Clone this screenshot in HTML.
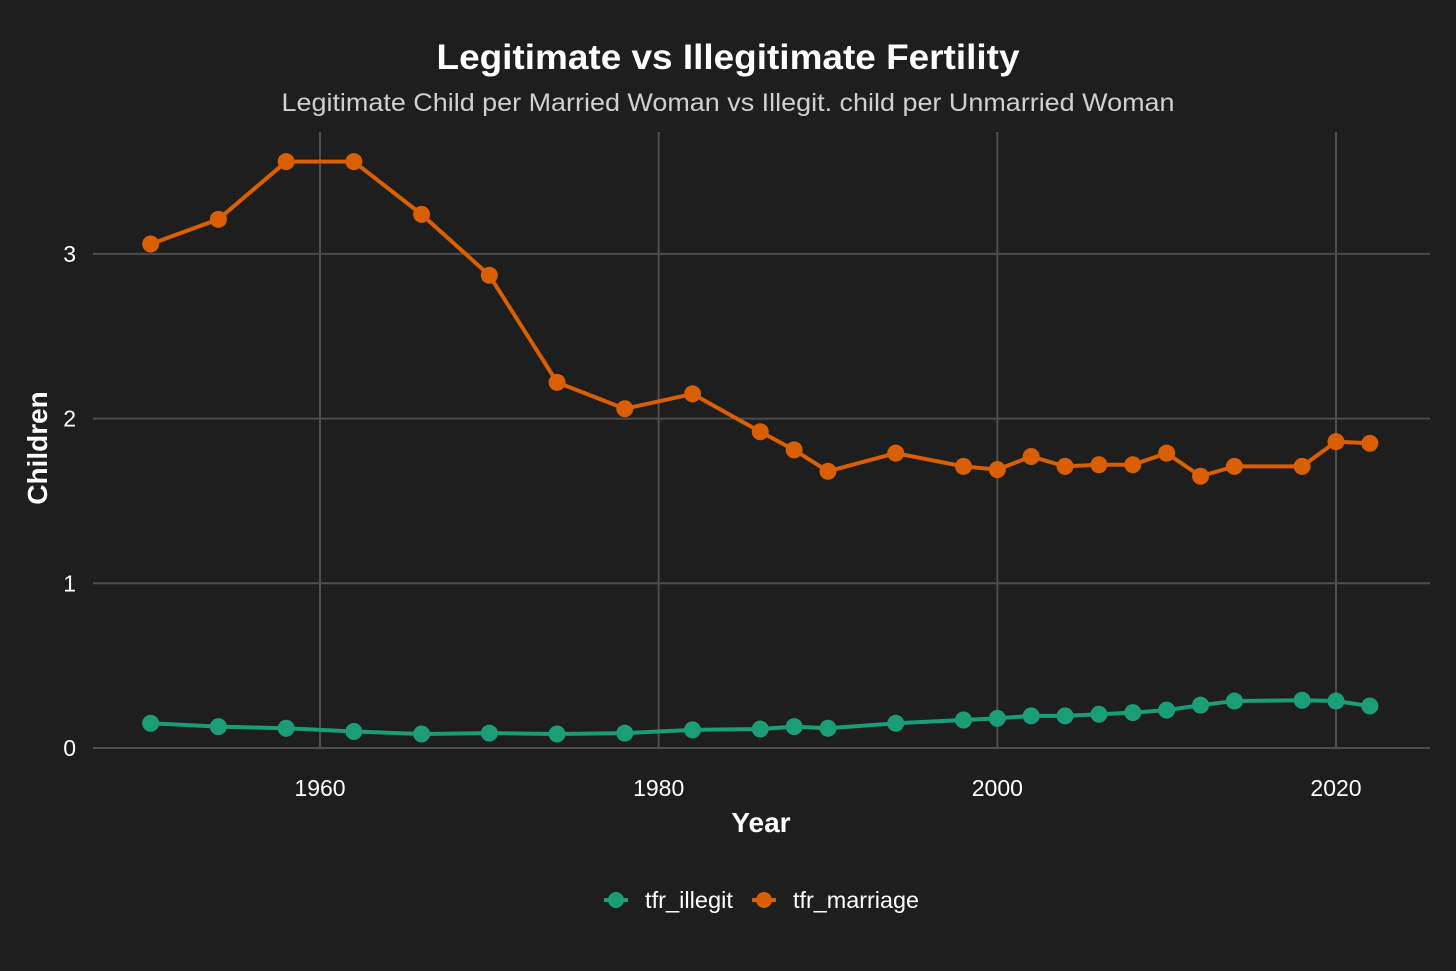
<!DOCTYPE html>
<html><head><meta charset="utf-8"><style>
html,body{margin:0;padding:0;background:#1e1e1e;}
svg{display:block;font-family:"Liberation Sans",sans-serif;}
</style></head><body>
<svg id="chart" width="1456" height="971">
<rect width="1456" height="971" fill="#1e1e1e"/>
<text x="728" y="69" text-anchor="middle" fill="#ffffff" font-size="35" font-weight="bold" textLength="583" lengthAdjust="spacingAndGlyphs">Legitimate vs Illegitimate Fertility</text>
<text x="728" y="111" text-anchor="middle" fill="#d0d0d0" font-size="25" textLength="893" lengthAdjust="spacingAndGlyphs">Legitimate Child per Married Woman vs Illegit. child per Unmarried Woman</text>
<g id="grid"></g>
<g id="ticks"></g>
<g id="series"></g>
<text x="761" y="832" text-anchor="middle" fill="#ffffff" font-size="28" font-weight="bold">Year</text>
<text transform="translate(47,448) rotate(-90)" text-anchor="middle" fill="#ffffff" font-size="28" font-weight="bold">Children</text>
<g>
<g>
<line x1="604" y1="900" x2="628" y2="900" stroke="#1b9e77" stroke-width="4"/>
<circle cx="616" cy="900" r="8" fill="#1b9e77"/>
<text x="645" y="908" fill="#ffffff" font-size="23" textLength="88" lengthAdjust="spacingAndGlyphs">tfr_illegit</text></g>
<g>
<line x1="752" y1="900" x2="776" y2="900" stroke="#d95f02" stroke-width="4"/>
<circle cx="764" cy="900" r="8" fill="#d95f02"/>
<text x="793" y="908" fill="#ffffff" font-size="23" textLength="126" lengthAdjust="spacingAndGlyphs">tfr_marriage</text></g>
</g>
</svg>
<script>
const years=[1950,1954,1958,1962,1966,1970,1974,1978,1982,1986,1988,1990,1994,1998,2000,2002,2004,2006,2008,2010,2012,2014,2018,2020,2022];
const marriage=[3.06,3.21,3.56,3.56,3.24,2.87,2.22,2.06,2.15,1.92,1.81,1.68,1.79,1.71,1.69,1.77,1.71,1.72,1.72,1.79,1.65,1.71,1.71,1.86,1.85];
const illegit=[0.15,0.13,0.12,0.10,0.085,0.09,0.085,0.09,0.11,0.115,0.13,0.12,0.15,0.17,0.18,0.195,0.195,0.205,0.215,0.23,0.26,0.285,0.29,0.285,0.255];
const xTicks=[1960,1980,2000,2020];
const yTicks=[0,1,2,3];
const NS="http://www.w3.org/2000/svg";
function xs(v){return 320+(v-1960)*(1336-320)/60;}
function ys(v){return 748-v*164.7;}
function mk(t,a,p){const e=document.createElementNS(NS,t);for(const k in a)e.setAttribute(k,a[k]);p.appendChild(e);return e;}
const grid=document.getElementById('grid'),ticks=document.getElementById('ticks'),ser=document.getElementById('series');
yTicks.forEach(v=>{
 const l=mk('line',{x1:93,x2:1430,y1:ys(v),y2:ys(v),stroke:'#4d4d4d','stroke-width':2},grid);
 
 
 const t=mk('text',{x:76,y:ys(v)+8,'text-anchor':'end',fill:'#ffffff','font-size':23},ticks);t.textContent=v;
 
 
});
xTicks.forEach(v=>{
 const l=mk('line',{x1:xs(v),x2:xs(v),y1:132,y2:748,stroke:'#4d4d4d','stroke-width':2},grid);
 
 
 const t=mk('text',{x:xs(v),y:796,'text-anchor':'middle',fill:'#ffffff','font-size':23},ticks);t.textContent=v;
 
 
});
function draw(vals,color,name){
 const p=mk('polyline',{points:years.map((y,i)=>xs(y)+','+ys(vals[i])).join(' '),fill:'none',stroke:color,'stroke-width':4,'stroke-linejoin':'round'},ser);
 
 
 years.forEach((y,i)=>{
  const c=mk('circle',{cx:xs(y),cy:ys(vals[i]),r:8.5,fill:color},ser);
  
  
 });
}
draw(illegit,'#1b9e77','illegit');
draw(marriage,'#d95f02','marriage');
</script>
</body></html>
